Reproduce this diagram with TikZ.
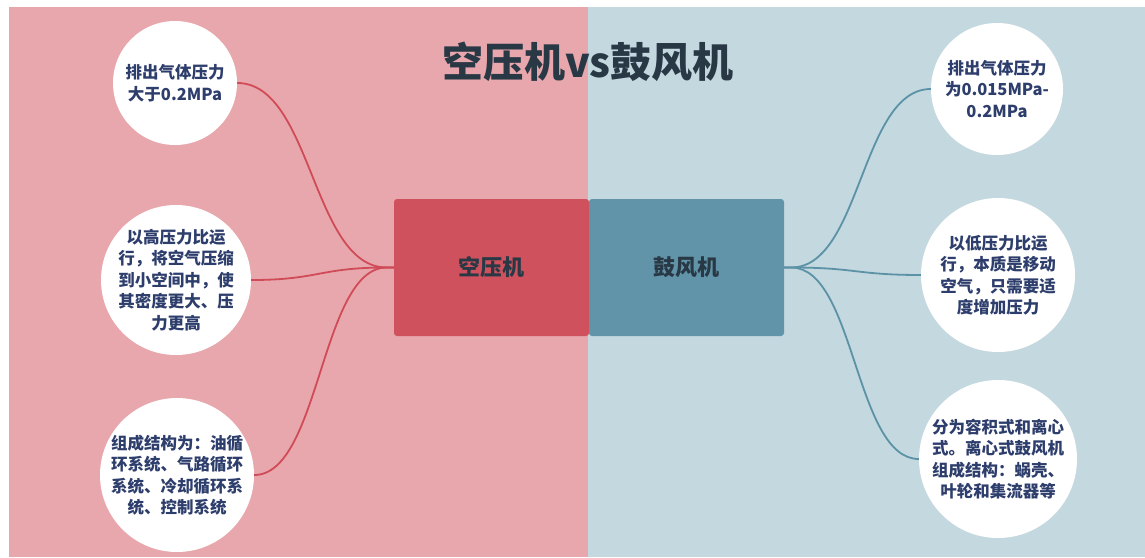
\documentclass[tikz,border=0pt]{standalone}
\usepackage{fontspec}
\setmainfont{Noto Sans CJK SC}
\usetikzlibrary{calc}
\definecolor{pinkbg}{HTML}{E8A7AC}
\definecolor{bluebg}{HTML}{C4D8DF}
\definecolor{redbox}{HTML}{CF515D}
\definecolor{bluebox}{HTML}{6194A8}
\definecolor{redline}{HTML}{D04B58}
\definecolor{blueline}{HTML}{5C92A6}
\definecolor{boxtext}{HTML}{283845}
\definecolor{circtext}{HTML}{2E3E6C}
\tikzset{
  bubble/.style={circle, fill=white, draw=none, inner sep=0pt},
  bubbletext/.style={align=center, text=circtext, font=\bfseries\fontsize{16.5}{21.5}\selectfont, inner sep=0pt},
  mainbox/.style={rounded corners=3pt, minimum width=195pt, minimum height=137pt, inner sep=0pt, text=boxtext, font=\bfseries\fontsize{22}{26}\selectfont},
  redlink/.style={draw=redline, line width=1.8pt},
  bluelink/.style={draw=blueline, line width=1.8pt},
}
\begin{document}
\begin{tikzpicture}[x=1pt,y=-1pt]
\useasboundingbox (0,0) rectangle (1145,557);
\fill[white] (0,0) rectangle (1145,557);
\fill[pinkbg] (9,7) rectangle (588,557);
\fill[bluebg] (588,7) rectangle (1145,557);

% title
\node[text=boxtext, font=\bfseries\fontsize{41}{48}\selectfont, inner sep=0pt] (title) at (588,62) {空压机vs鼓风机};

% central boxes
\node[mainbox, fill=redbox] (kyj) at (491.5,267.5) {空压机};
\node[mainbox, fill=bluebox] (gfj) at (686.5,267.5) {鼓风机};

% left bubbles
\node[bubble, minimum size=124pt] (l1) at (175,83) {};
\node[bubble, minimum size=150pt] (l2) at (176,280) {};
\node[bubble, minimum size=154pt] (l3) at (177,475) {};
% right bubbles
\node[bubble, minimum size=132pt] (r1) at (997,89) {};
\node[bubble, minimum size=154pt] (r2) at (998,275) {};
\node[bubble, minimum size=158pt] (r3) at (998,459) {};

% connectors
\draw[redlink] (kyj.west) -- ++(-7,0) .. controls +(-75,0) and +(75,0) .. (l1.east);
\draw[redlink] (kyj.west) -- ++(-7,0) .. controls +(-68,0) and +(68,0) .. (l2.east);
\draw[redlink] (kyj.west) -- ++(-7,0) .. controls +(-66,0) and +(66,0) .. (l3.east);
\draw[bluelink] (gfj.east) -- ++(7,0) .. controls +(70,0) and +(-70,0) .. (r1.west);
\draw[bluelink] (gfj.east) -- ++(7,0) .. controls +(65,0) and +(-65,0) .. (r2.west);
\draw[bluelink] (gfj.east) -- ++(7,0) .. controls +(64,0) and +(-64,0) .. (r3.west);

% bubble texts
\node[bubbletext] (tl1) at (l1.center) {排出气体压力\\大于0.2MPa};
\node[bubbletext] (tl2) at (l2.center) {以高压力比运\\行，将空气压缩\\到小空间中，使\\其密度更大、压\\力更高};
\node[bubbletext] (tl3) at (l3.center) {组成结构为：油循\\环系统、气路循环\\系统、冷却循环系\\统、控制系统};
\node[bubbletext] (tr1) at (r1.center) {排出气体压力\\为0.015MPa-\\0.2MPa};
\node[bubbletext] (tr2) at (r2.center) {以低压力比运\\行，本质是移动\\空气，只需要适\\度增加压力};
\node[bubbletext] (tr3) at (r3.center) {分为容积式和离心\\式。离心式鼓风机\\组成结构：蜗壳、\\叶轮和集流器等};
\end{tikzpicture}
\end{document}
